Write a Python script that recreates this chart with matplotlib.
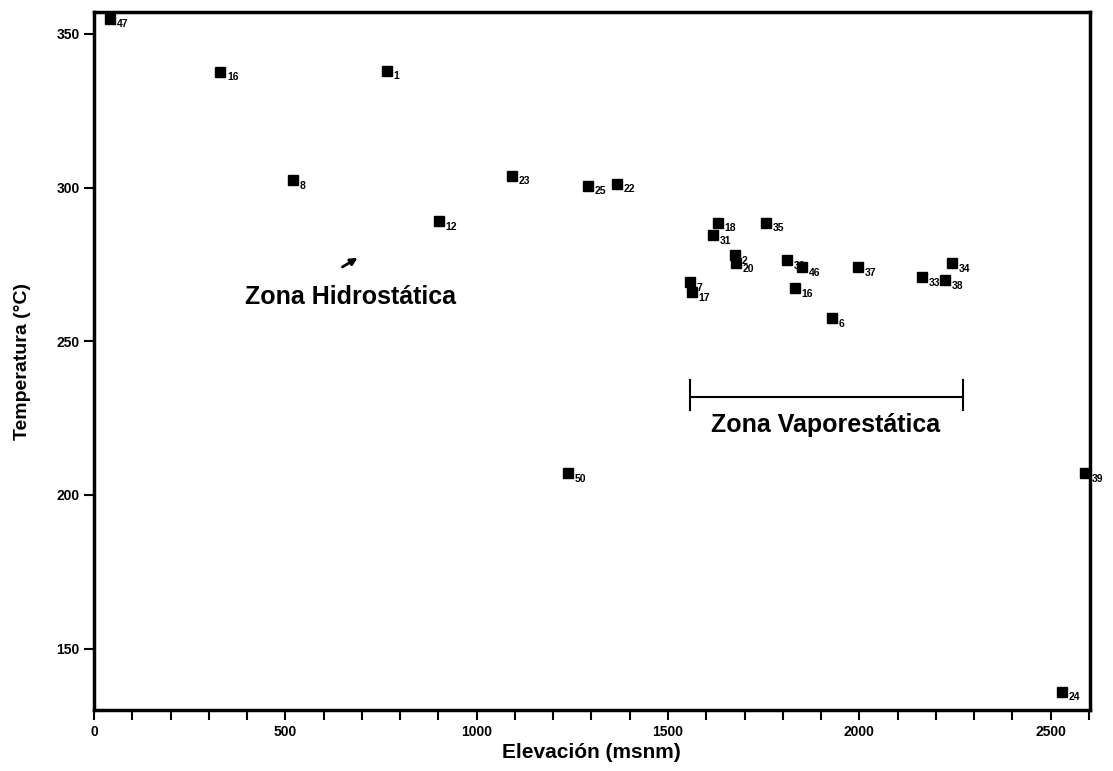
import matplotlib.pyplot as plt
import numpy as np

# pozos: elevacion (msnm), temperatura (C), etiqueta
elevacion = [42, 329, 765, 520, 901, 1092, 1290, 1366, 1630, 1617, 1755,
             1675, 1677, 1557, 1562, 1810, 1850, 1831, 1928, 1996, 2163,
             2223, 2241, 1238, 2589, 2529]
temperatura = [354.9, 337.7, 338.0, 302.3, 289.0, 303.9, 300.6, 301.3, 288.6,
               284.4, 288.6, 278.0, 275.3, 269.2, 266.0, 276.3, 274.0, 267.2,
               257.5, 274.0, 270.8, 269.8, 275.3, 207.0, 207.0, 136.0]
etiquetas = ['47', '16', '1', '8', '12', '23', '25', '22', '18', '31', '35',
             '2', '20', '7', '17', '36', '46', '16', '6', '37', '33',
             '38', '34', '50', '39', '24']

x_ticks = [0, 500, 1000, 1500, 2000, 2500]
y_ticks = [150, 200, 250, 300, 350]

fuente = ['Liberation Sans Narrow', 'Liberation Sans', 'DejaVu Sans']

fig = plt.figure(figsize=(11.13, 7.71), dpi=100)
ax = fig.add_axes([0.0845, 0.079, 0.8945, 0.905])

ax.plot(elevacion, temperatura, 's', color='black', markersize=7,
        clip_on=False, zorder=3)
for xv, yv, t in zip(elevacion, temperatura, etiquetas):
    ax.annotate(t, (xv, yv), xytext=(5, -4), textcoords='offset points',
                fontsize=7.5, fontweight='bold', family=fuente,
                va='center', ha='left', annotation_clip=False)

# zona hidrostatica
ax.annotate('', xy=(695, 277.6), xytext=(643, 273.7),
            arrowprops=dict(arrowstyle='-|>', color='black', lw=2,
                            mutation_scale=10))
ax.text(669, 264.3, 'Zona Hidrostática', fontsize=18, fontweight='bold',
        family=fuente, ha='center', va='center')

# zona vaporestatica
ax.plot([1557, 2270], [231.8, 231.8], color='black', lw=1.5)
ax.plot([1557, 1557], [227.6, 237.3], color='black', lw=1.5)
ax.plot([2270, 2270], [227.6, 237.3], color='black', lw=1.5)
ax.text(1912, 222.7, 'Zona Vaporestática', fontsize=18, fontweight='bold',
        family=fuente, ha='center', va='center')

ax.set_xlim(0, 2602)
ax.set_ylim(130, 357)
ax.set_xticks(x_ticks)
ax.set_xticks(np.arange(0, 2601, 100), minor=True)
ax.set_yticks(y_ticks)
ax.tick_params(axis='both', direction='out', length=7, width=1.5,
               labelsize=10)
ax.tick_params(axis='x', which='minor', direction='out', length=7, width=1.5)
for lab in ax.get_xticklabels() + ax.get_yticklabels():
    lab.set_fontweight('bold')
    lab.set_family(fuente)

for s in ax.spines.values():
    s.set_linewidth(2.5)

ax.set_xlabel('Elevación (msnm)', fontsize=15, fontweight='bold',
              family=fuente, labelpad=3)
ax.set_ylabel('Temperatura (°C)', fontsize=14, fontweight='bold',
              family=fuente, labelpad=18)

fig.savefig('out.png', dpi=100)
